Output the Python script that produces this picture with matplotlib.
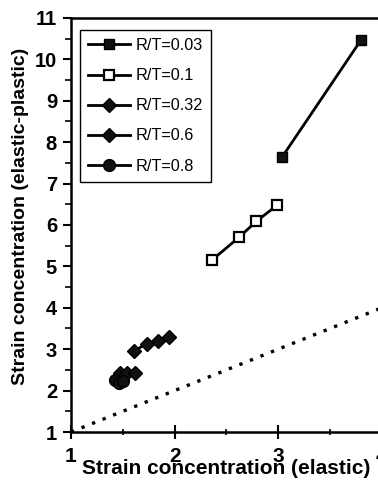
import matplotlib
matplotlib.use("Agg")
import matplotlib.pyplot as plt
from matplotlib.ticker import MultipleLocator

plt.rcParams['font.family'] = ['Liberation Sans', 'DejaVu Sans']

# Data
rt003_x = [3.04, 3.80]
rt003_y = [7.65, 10.47]
rt01_x = [2.36, 2.62, 2.79, 2.99]
rt01_y = [5.15, 5.70, 6.09, 6.48]
rt032_x = [1.61, 1.73, 1.84, 1.95]
rt032_y = [2.96, 3.13, 3.20, 3.30]
rt06_x = [1.47, 1.54, 1.62]
rt06_y = [2.43, 2.43, 2.42]
rt08_x = [1.42, 1.46, 1.50]
rt08_y = [2.25, 2.18, 2.24]
ref_x = [1, 4]
ref_y = [1, 4]

x_ticks = [1, 2, 3, 4]
y_ticks = list(range(1, 12))

fig = plt.figure(figsize=(3.78, 4.92), dpi=100)
ax = fig.add_axes([71/378, 60/492, 310.8/378, 414/492])

lw = 2.0
ax.plot(rt003_x, rt003_y, '-s', color='black', lw=lw, ms=7.5, mfc='#111111', mec='black', label='R/T=0.03')
ax.plot(rt01_x, rt01_y, '-s', color='black', lw=lw, ms=7, mfc='white', mec='black', mew=1.6, label='R/T=0.1')
ax.plot(rt032_x, rt032_y, '-D', color='black', lw=lw, ms=7.5, mfc='#111111', mec='black', label='R/T=0.32')
ax.plot(rt06_x, rt06_y, '-D', color='black', lw=lw, ms=7.5, mfc='#111111', mec='black', label='R/T=0.6')
ax.plot(rt08_x, rt08_y, '-o', color='black', lw=lw, ms=8.5, mfc='#111111', mec='black', label='R/T=0.8')
ax.plot(ref_x, ref_y, color='black', lw=2.4, linestyle=(0, (1, 2.4)))

ax.set_xlim(1, 4)
ax.set_ylim(1, 11)
ax.set_xticks(x_ticks)
ax.set_yticks(y_ticks)
ax.xaxis.set_minor_locator(MultipleLocator(0.5))
ax.yaxis.set_minor_locator(MultipleLocator(0.5))
ax.tick_params(axis='x', which='major', direction='inout', length=10, width=1.5, labelsize=15, pad=6)
ax.tick_params(axis='x', which='minor', direction='inout', length=5, width=1.2)
ax.tick_params(axis='y', which='major', direction='out', length=6, width=1.5, labelsize=14.5, pad=4)
ax.tick_params(axis='y', which='minor', direction='out', length=4, width=1.2)
for lab in ax.get_xticklabels() + ax.get_yticklabels():
    lab.set_fontweight('bold')

for s in ax.spines.values():
    s.set_linewidth(1.8)

ax.set_xlabel('Strain concentration (elastic)', fontsize=15, fontweight='bold', labelpad=-5)
ax.set_ylabel('Strain concentration (elastic-plastic)', fontsize=14, fontweight='bold')
ax.yaxis.set_label_coords(-0.135, 0.52)

leg = ax.legend(loc='upper left', bbox_to_anchor=(0.029, 0.971), borderaxespad=0,
                fontsize=11.7, fancybox=False, framealpha=1, edgecolor='black',
                handlelength=2.6, handletextpad=0.3, labelspacing=0.93, borderpad=0.5)
leg.get_frame().set_linewidth(1.0)

fig.savefig('out.png', dpi=100)
